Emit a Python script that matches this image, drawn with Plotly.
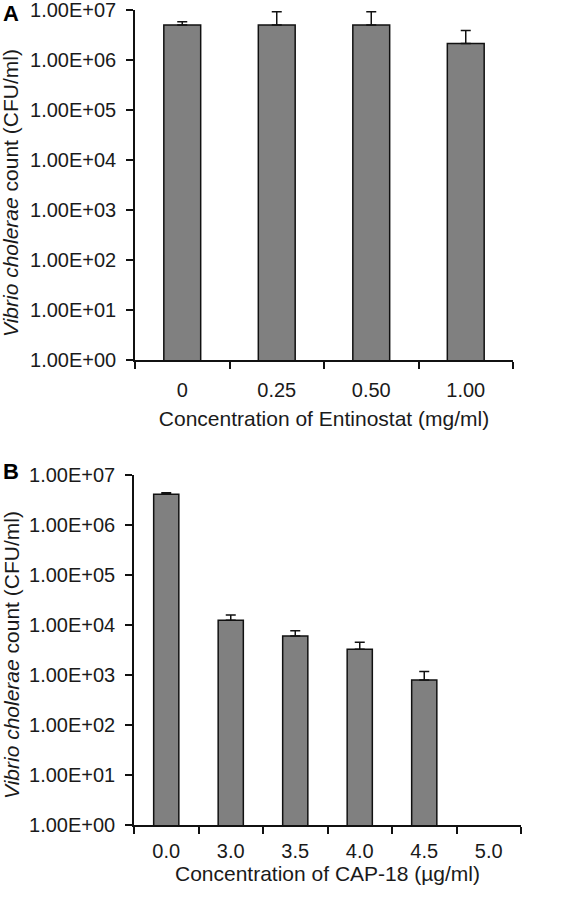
import plotly.graph_objects as go

# Panel A data
cat_a = ["0", "0.25", "0.50", "1.00"]
mean_a = [4.9e6, 4.9e6, 4.9e6, 2.1e6]
err_a = [0.8e6, 4.1e6, 4.1e6, 1.7e6]

# Panel B data
cat_b = ["0.0", "3.0", "3.5", "4.0", "4.5", "5.0"]
mean_b = [4.1e6, 1.24e4, 6.0e3, 3.26e3, 794, None]
err_b = [0.3e6, 3.4e3, 1.7e3, 1.24e3, 386, None]

ytick_vals = [1e0, 1e1, 1e2, 1e3, 1e4, 1e5, 1e6, 1e7]
ytick_text = ["1.00E+00", "1.00E+01", "1.00E+02", "1.00E+03",
              "1.00E+04", "1.00E+05", "1.00E+06", "1.00E+07"]

W, H = 566, 899
FONT = "Liberation Sans, Arial, sans-serif"
TXT = "#1a1a1a"
FS = 20
FT = 21

def px_x(p):
    return p / W

def px_y(p):
    return 1 - p / H

fig = go.Figure()

def add_panel(cats, means, errs, xa, ya):
    fig.add_trace(go.Bar(
        x=cats, y=means, xaxis=xa, yaxis=ya,
        marker=dict(color="#808080", line=dict(color="#111111", width=1.5)),
        error_y=dict(type="data", symmetric=False, array=errs,
                     arrayminus=[0 if e is not None else None for e in errs],
                     color="#111111", thickness=1.5, width=5),
        showlegend=False,
    ))

add_panel(cat_a, mean_a, err_a, "x", "y")
add_panel(cat_b, mean_b, err_b, "x2", "y2")

xcommon = dict(type="category", showline=True, linecolor="#111111", linewidth=1.5,
               ticks="outside", tickson="boundaries", ticklen=7, tickwidth=1.5,
               tickcolor="#111111", showgrid=False, zeroline=False,
               tickfont=dict(family=FONT, size=FS, color=TXT),
               automargin=False, ticklabeloverflow="allow")
ycommon = dict(type="log", range=[0, 7], showline=True, linecolor="#111111",
               linewidth=1.5, ticks="outside", ticklen=7, tickwidth=1.5,
               tickcolor="#111111", showgrid=False, zeroline=False,
               tickmode="array", tickvals=ytick_vals, ticktext=ytick_text,
               tickfont=dict(family=FONT, size=FS, color=TXT),
               ticklabelstandoff=6, automargin=False, ticklabeloverflow="allow")

fig.update_layout(
    width=W, height=H,
    margin=dict(l=0, r=0, t=0, b=0),
    paper_bgcolor="white", plot_bgcolor="white",
    bargap=0.61,
    xaxis=dict(domain=[px_x(135), px_x(513)], anchor="y", ticklabelstandoff=11,
               title=dict(text="Concentration of Entinostat (mg/ml)",
                          font=dict(family=FONT, size=FT, color=TXT), standoff=12),
               **xcommon),
    yaxis=dict(domain=[px_y(360), px_y(9.5)], anchor="x", **ycommon),
    xaxis2=dict(domain=[px_x(134), px_x(521)], anchor="y2", ticklabelstandoff=7,
                title=dict(text="Concentration of CAP-18 (µg/ml)",
                           font=dict(family=FONT, size=FT, color=TXT), standoff=1),
                **xcommon),
    yaxis2=dict(domain=[px_y(825), px_y(475)], anchor="x2", **ycommon),
)

ytitle = "<i>Vibrio cholerae</i> count (CFU/ml)"
for yc, lab, ly in [(193, "A", 13.5), (655, "B", 471.5)]:
    fig.add_annotation(text=ytitle, xref="paper", yref="paper",
                       x=px_x(11), y=px_y(yc), xanchor="center", yanchor="middle",
                       textangle=-90, showarrow=False,
                       font=dict(family=FONT, size=FT, color=TXT))
    fig.add_annotation(text="<b>%s</b>" % lab, xref="paper", yref="paper",
                       x=px_x(1), y=px_y(ly), xanchor="left", yanchor="middle",
                       showarrow=False,
                       font=dict(family=FONT, size=22, color="#000000"))

fig.write_html("out.html", config={"displayModeBar": False},
               post_script="document.body.style.margin='0';")
